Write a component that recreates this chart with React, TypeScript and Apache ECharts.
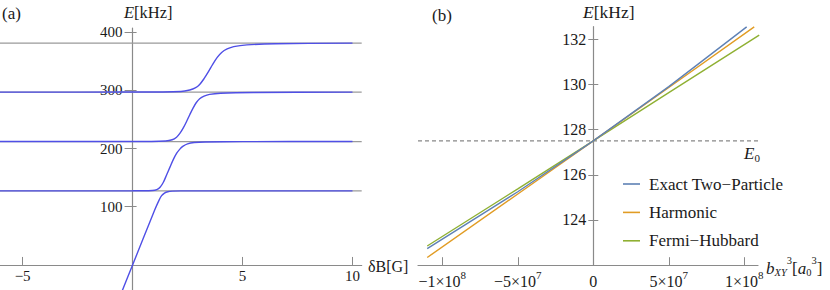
import React, { useEffect, useRef } from 'react';
import * as echarts from 'echarts';

const FONT = '"Liberation Serif", "Times New Roman", serif';
const TXT = '#1a1a1a';
const AXIS = '#8a8a8a';

// ---------- Panel (a) ----------
const X_MIN_A = -6.03;
const X_MAX_A = 10.42;
const Y_MIN_A = -43;
const Y_MAX_A = 407;
const X_TICKS_A = [-5, 5, 10];
const Y_TICKS_A = [100, 200, 300, 400];
const LEVELS_A = [127.3, 212, 296.8, 381];

const CURVE_A1 = [
  [-0.5, -47], [0, 0], [0.5, 47], [1.0, 94], [1.2, 111], [1.32, 119], [1.45, 123.5],
  [1.6, 125.8], [1.8, 126.8], [2.2, 127.2], [3, 127.3], [10, 127.3],
];
const CURVE_A2 = [
  [-6.03, 127.3], [0, 127.4], [0.9, 128], [1.1, 129.5], [1.25, 133.5], [1.4, 142],
  [1.55, 155], [1.7, 168], [1.85, 181], [2.0, 191.5], [2.15, 199], [2.3, 204],
  [2.5, 208], [2.8, 210.3], [3.3, 211.3], [5, 211.8], [10, 212],
];
const CURVE_A3 = [
  [-6.03, 212], [0, 212.1], [1.5, 213], [1.8, 215], [2.0, 219.5], [2.15, 226],
  [2.3, 235], [2.45, 246], [2.6, 258], [2.75, 269.5], [2.9, 279], [3.05, 285.5],
  [3.25, 290], [3.5, 293], [4, 295], [5.5, 296.3], [10, 296.8],
];
const CURVE_A4 = [
  [-6.03, 296.8], [0, 297], [2.2, 298], [2.6, 300.5], [2.85, 304], [3.05, 310],
  [3.25, 320], [3.45, 332], [3.65, 345], [3.85, 356.5], [4.05, 365], [4.3, 371],
  [4.6, 375], [5.2, 378], [6.5, 380], [10, 381],
];

// ---------- Panel (b) ----------
const X_MIN_B = -1.161e8;
const X_MAX_B = 1.091e8;
const Y_MIN_B = 122;
const Y_MAX_B = 132.55;
const X_TICKS_B = [-1e8, -5e7, 0, 5e7, 1e8];
const X_TICK_MANT_B = ['−1×10', '−5×10', '0', '5×10', '1×10'];
const X_TICK_EXP_B = ['8', '7', '', '7', '8'];
const Y_TICKS_B = [124, 126, 128, 130, 132];
const E0 = 127.5;

const NAMES_B = ['Exact Two−Particle', 'Harmonic', 'Fermi−Hubbard'];
const COLORS_B = ['#5E81B5', '#E19C24', '#8FB032'];
const EXACT_B = [
  [-1.1e8, 122.73], [-5e7, 125.25], [0, 127.5], [5e7, 129.9], [1.016e8, 132.54],
];
const HARMONIC_B = [
  [-1.1e8, 122.34], [-5e7, 125.15], [0, 127.5], [5e7, 129.86], [1.066e8, 132.54],
];
const FERMI_HUBBARD_B = [
  [-1.1e8, 122.85], [-5e7, 125.38], [0, 127.5], [5e7, 129.63], [1.099e8, 132.18],
];

// layout (pixels)
const GRID_A = { left: 0, top: 28, width: 361.7, height: 262 };
const GRID_B = { left: 418, top: 26.7, width: 340, height: 238.5 };

const fmtNum = (v: number) => (v < 0 ? '−' + Math.abs(v) : String(v));

function zeroFrac(min: number, max: number) {
  return (0 - min) / (max - min);
}

function buildOption(): any {
  const tickStyle = { color: AXIS, width: 1 };
  const zAx = zeroFrac(X_MIN_A, X_MAX_A) * GRID_A.width;
  const zBx = zeroFrac(X_MIN_B, X_MAX_B) * GRID_B.width;
  const zAy = zeroFrac(Y_MIN_A, Y_MAX_A) * GRID_A.height;

  const levelSeries = LEVELS_A.map((L) => ({
    type: 'line', xAxisIndex: 0, yAxisIndex: 0, silent: true, symbol: 'none',
    data: [[X_MIN_A, L], [X_MAX_A, L]],
    lineStyle: { color: '#9a9a9a', width: 1.2 }, z: 2,
  }));
  const curveSeries = [CURVE_A1, CURVE_A2, CURVE_A3, CURVE_A4].map((d) => ({
    type: 'line', xAxisIndex: 0, yAxisIndex: 0, silent: true, symbol: 'none',
    data: d, smooth: 0.3, clip: true,
    lineStyle: { color: '#4f4fe6', width: 1.4 }, z: 3,
  }));
  const bData = [EXACT_B, HARMONIC_B, FERMI_HUBBARD_B];
  const bSeries = bData.map((d, i) => ({
    name: NAMES_B[i], type: 'line', xAxisIndex: 1, yAxisIndex: 2, silent: true,
    symbol: 'none', data: d, smooth: false,
    itemStyle: { color: COLORS_B[i] },
    lineStyle: { color: COLORS_B[i], width: 1.4 }, z: 3 + (2 - i),
  }));
  const e0Series = {
    type: 'line', xAxisIndex: 1, yAxisIndex: 2, silent: true, symbol: 'none',
    data: [[X_MIN_B, E0], [X_MAX_B, E0]],
    lineStyle: { color: '#888', width: 1.3, type: [4, 3] }, z: 2,
  };

  const yAxisPair = (gridIndex: number, min: number, max: number, ticks: number[], fromLeft: number, width: number,
    outLen: number, inLen: number, fontSize: number, margin: number) => [
    {
      gridIndex, type: 'value', min, max, position: 'left', offset: -fromLeft,
      axisLine: { onZero: false, lineStyle: { color: AXIS, width: 1.2 } },
      axisTick: { show: true, inside: false, length: outLen, customValues: ticks, lineStyle: tickStyle },
      axisLabel: {
        customValues: ticks, formatter: (v: number) => fmtNum(v), fontFamily: FONT,
        fontSize, color: TXT, margin,
      },
      splitLine: { show: false },
    },
    {
      gridIndex, type: 'value', min, max, position: 'right', offset: -(width - fromLeft),
      axisLine: { onZero: false, show: false },
      axisTick: { show: true, inside: false, length: inLen, customValues: ticks, lineStyle: tickStyle },
      axisLabel: { show: false },
      splitLine: { show: false },
    },
  ];

  return {
    animation: false,
    backgroundColor: '#fff',
    grid: [
      { ...GRID_A, outerBoundsMode: 'none', containLabel: false },
      { ...GRID_B, outerBoundsMode: 'none', containLabel: false },
    ],
    xAxis: [
      {
        gridIndex: 0, type: 'value', min: X_MIN_A, max: X_MAX_A, position: 'bottom', offset: -zAy,
        axisLine: { onZero: false, lineStyle: { color: AXIS, width: 1.2 } },
        axisTick: { show: true, inside: true, length: 8, customValues: X_TICKS_A, lineStyle: tickStyle },
        axisLabel: {
          customValues: X_TICKS_A, formatter: (v: number) => fmtNum(v), fontFamily: FONT,
          fontSize: 15, lineHeight: 16, color: TXT, margin: 3,
        },
        splitLine: { show: false },
      },
      {
        gridIndex: 1, type: 'value', min: X_MIN_B, max: X_MAX_B,
        axisLine: { onZero: false, lineStyle: { color: AXIS, width: 1.2 } },
        axisTick: { show: true, inside: true, length: 8, customValues: X_TICKS_B, lineStyle: tickStyle },
        axisLabel: {
          customValues: X_TICKS_B, margin: 4, color: TXT,
          formatter: (v: number) => {
            const i = X_TICKS_B.indexOf(v);
            if (i < 0) return '';
            const e = X_TICK_EXP_B[i];
            return e ? `{b|${X_TICK_MANT_B[i]}}{s|${e}}` : `{b|${X_TICK_MANT_B[i]}}`;
          },
          rich: {
            b: { fontFamily: FONT, fontSize: 16, lineHeight: 25, color: TXT },
            s: { fontFamily: FONT, fontSize: 11, lineHeight: 11, padding: [0, 0, 14, 0], color: TXT },
          },
        },
        splitLine: { show: false },
      },
    ],
    yAxis: [
      ...yAxisPair(0, Y_MIN_A, Y_MAX_A, Y_TICKS_A, zAx, GRID_A.width, 8, 4, 15, 10),
      ...yAxisPair(1, Y_MIN_B, Y_MAX_B, Y_TICKS_B, zBx, GRID_B.width, 5, 5, 16, 7),
    ],
    legend: {
      data: NAMES_B.map((n) => ({ name: n, icon: 'rect' })),
      orient: 'vertical', left: 623, top: 175, padding: 0,
      itemWidth: 17, itemHeight: 1.6, itemGap: 10.4, selectedMode: false,
      textStyle: { fontFamily: FONT, fontSize: 17, lineHeight: 18, color: TXT, padding: [0, 0, 0, 4] },
    },
    graphic: [
      {
        type: 'text', x: 2, y: 13,
        style: { text: '(a)', font: `17px ${FONT}`, fill: TXT, verticalAlign: 'middle' },
      },
      {
        type: 'text', x: 124, y: 12.5,
        style: {
          text: '{i|E}{n|[kHz]}', fill: TXT, verticalAlign: 'middle',
          rich: {
            i: { fontFamily: FONT, fontStyle: 'italic', fontSize: 16.5, fill: TXT },
            n: { fontFamily: FONT, fontSize: 16.5, fill: TXT },
          },
        },
      },
      {
        type: 'text', x: 368, y: 266,
        style: { text: 'δB[G]', font: `16px ${FONT}`, fill: TXT, verticalAlign: 'middle' },
      },
      {
        type: 'text', x: 432, y: 15,
        style: { text: '(b)', font: `17px ${FONT}`, fill: TXT, verticalAlign: 'middle' },
      },
      {
        type: 'text', x: 583, y: 12,
        style: {
          text: '{i|E}{n|[kHz]}', fill: TXT, verticalAlign: 'middle',
          rich: {
            i: { fontFamily: FONT, fontStyle: 'italic', fontSize: 17.5, fill: TXT },
            n: { fontFamily: FONT, fontSize: 17.5, fill: TXT },
          },
        },
      },
      {
        type: 'text', x: 744, y: 153,
        style: {
          text: '{i|E}{sub|0}', fill: TXT, verticalAlign: 'middle',
          rich: {
            i: { fontFamily: FONT, fontStyle: 'italic', fontSize: 17, lineHeight: 20, fill: TXT },
            sub: { fontFamily: FONT, fontSize: 11, lineHeight: 11, padding: [9, 0, 0, 0], fill: TXT },
          },
        },
      },
      {
        type: 'text', x: 766, y: 268,
        style: {
          text: '{i|b}{subi|XY}{sup|3}{n|[}{i|a}{sub|0}{sup|3}{n|]}', fill: TXT, verticalAlign: 'middle',
          rich: {
            i: { fontFamily: FONT, fontStyle: 'italic', fontSize: 17, lineHeight: 26, fill: TXT },
            n: { fontFamily: FONT, fontSize: 17, lineHeight: 26, fill: TXT },
            subi: { fontFamily: FONT, fontStyle: 'italic', fontSize: 10.5, lineHeight: 10, padding: [8, 0, 0, 0], fill: TXT },
            sub: { fontFamily: FONT, fontSize: 10.5, lineHeight: 10, padding: [8, 0, 0, 0], fill: TXT },
            sup: { fontFamily: FONT, fontSize: 10.5, lineHeight: 10, padding: [0, 0, 16, 0], fill: TXT },
          },
        },
      },
    ],
    series: [...levelSeries, ...curveSeries, e0Series, ...bSeries],
  };
}

export default function App() {
  const ref = useRef<HTMLDivElement>(null);
  useEffect(() => {
    if (!ref.current) return;
    const chart = echarts.init(ref.current, null, { renderer: 'svg' });
    chart.setOption(buildOption());
    return () => chart.dispose();
  }, []);
  return (
    <div
      ref={ref}
      style={{ position: 'fixed', left: 0, top: 0, width: 830, height: 290, background: '#fff' }}
    />
  );
}
